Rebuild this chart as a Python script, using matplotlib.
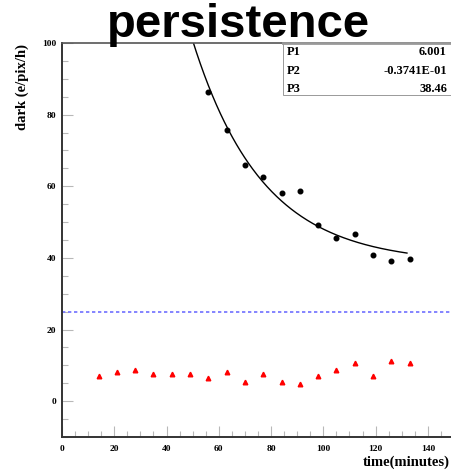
import matplotlib
matplotlib.use("Agg")
import matplotlib.pyplot as plt
import numpy as np

# measured dark current (black) and reference (red), time in minutes
t_dark = [56, 63, 70, 77, 84, 91, 98, 105, 112, 119, 126, 133]
dark = [86.4, 75.7, 66.0, 62.5, 58.2, 58.8, 49.2, 45.6, 46.7, 40.8, 39.0, 39.6]

t_ref = [14, 21, 28, 35, 42, 49, 56, 63, 70, 77, 84, 91, 98, 105, 112, 119, 126, 133]
ref = [7.1, 8.2, 8.8, 7.6, 7.6, 7.6, 6.5, 8.2, 5.3, 7.6, 5.3, 4.7, 7.0, 8.8, 10.6, 7.0, 11.3, 10.6]

# fit parameters expo(P1 + P2*x) + P3
par_names = ["P1", "P2", "P3"]
par_text = ["6.001", "-0.3741E-01", "38.46"]
p1, p2, p3 = 6.001, -0.03741, 38.46
fit_range = (40, 132)

level = 25

serif = "Liberation Serif"

fig = plt.figure(figsize=(4.52, 4.73), dpi=100)
ax = fig.add_axes([62 / 452, 36 / 473, 392 / 452, 394 / 473])

xf = np.linspace(fit_range[0], fit_range[1], 300)
ax.plot(xf, np.exp(p1 + p2 * xf) + p3, color="black", lw=1.0)
ax.plot(t_dark, dark, "o", color="black", ms=3.3)
ax.plot(t_ref, ref, "^", color="red", ms=3.3, mec="red")
ax.axhline(level, color="#7070ff", lw=1.2, ls=(0, (2, 1.6)))

ax.set_xlim(0, 150)
ax.set_ylim(-10, 100)
ax.set_xticks(np.arange(0, 150, 20))
ax.set_xticks(np.arange(0, 151, 5), minor=True)
ax.set_yticks(np.arange(0, 101, 20))
ax.set_yticks(np.arange(-10, 101, 5), minor=True)
ax.tick_params(which="both", direction="in", color="#b8b8b8", width=0.8,
               labelsize=6.8, pad=4)
ax.tick_params(which="major", length=8)
ax.tick_params(which="minor", length=4)
ax.tick_params(axis="x", pad=6)
for lab in ax.get_xticklabels() + ax.get_yticklabels():
    lab.set_fontfamily(serif)
    lab.set_fontweight("bold")
for s in ["left", "bottom"]:
    ax.spines[s].set_linewidth(1.4)
    ax.spines[s].set_color("#333333")
ax.spines["top"].set_color("#555555")
ax.spines["top"].set_linewidth(1.2)
ax.spines["right"].set_visible(False)

fig.text(22 / 452, 1 - 87 / 473, "dark (e/pix/h)", rotation=90, ha="center",
         va="center", family=serif, weight="bold", fontsize=10.5)
fig.text(450 / 452, 1 - 462 / 473, "time(minutes)", ha="right", va="center",
         family=serif, weight="bold", fontsize=10.5)

# stats box
bx0, by0, by1 = 283 / 452, 1 - 95 / 473, 1 - 43 / 473
box = plt.Rectangle((bx0, by0), 1.0 - bx0 + 0.01, by1 - by0, transform=fig.transFigure,
                    facecolor="white", edgecolor="#999999", lw=0.7, zorder=5)
fig.patches.append(box)
fig.add_artist(plt.Line2D([bx0, 1.0], [by1, by1], transform=fig.transFigure,
                          color="#999999", lw=2.0, zorder=6))
rows_y = [52, 71, 89]
for name, val, yy in zip(par_names, par_text, rows_y):
    fig.text(287 / 452, 1 - yy / 473, name, ha="left", va="center",
             family=serif, weight="bold", fontsize=9, zorder=7)
    fig.text(447 / 452, 1 - yy / 473, val, ha="right", va="center",
             family=serif, weight="bold", fontsize=9, zorder=7)

fig.text(238 / 452, 1 - 25 / 473, "persistence", ha="center", va="center",
         family="Liberation Sans", weight="bold", fontsize=34, zorder=8)

fig.savefig("out.png", dpi=100)
